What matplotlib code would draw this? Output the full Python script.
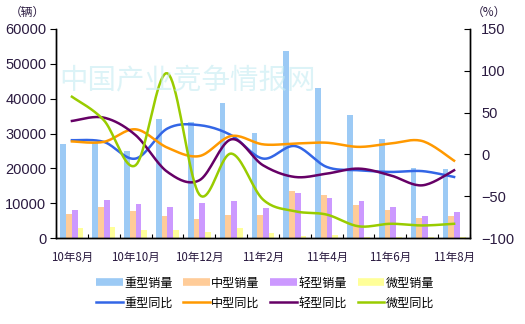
import numpy as np
import matplotlib.pyplot as plt
from matplotlib.lines import Line2D

plt.rcParams['font.family'] = ['Noto Sans CJK SC', 'DejaVu Sans']

months = ['10年8月', '10年9月', '10年10月', '10年11月', '10年12月', '11年1月', '11年2月',
          '11年3月', '11年4月', '11年5月', '11年6月', '11年7月', '11年8月']

# 销量（辆）
heavy_sales = [27100, 27400, 25000, 34100, 33300, 38800, 30200, 53700, 43100, 35400, 28400, 20100, 19800]
medium_sales = [6900, 9000, 7700, 6300, 5400, 6600, 6600, 13500, 12300, 9500, 8000, 5800, 6300]
light_sales = [8000, 10900, 9800, 8900, 10000, 10600, 8700, 12800, 11500, 10600, 8900, 6300, 7500]
micro_sales = [2900, 3200, 2300, 2300, 1700, 2800, 1300, 600, 900, 300, 300, 200, 200]

# 同比（%）
heavy_yoy = [17, 15, -5, 31, 35, 23, -5, 10, -15, -19, -21, -20, -27]
medium_yoy = [15.5, 15, 30, 8, -2, 22, 12, 13, 14, 9, 13, 16, -7.5]
light_yoy = [40, 44, 23, -21, -31, 18, -13, -27, -23, -17, -25, -37, -19]
micro_yoy = [69, 41, -13, 97, -48, 1, -54, -68, -72, -86, -83, -85, -83]

bar_colors = ['#9ccaf5', '#ffcc99', '#cc99ff', '#ffff99']
line_colors = ['#3366e6', '#ff9900', '#660066', '#99cc00']
bar_names = ['重型销量', '中型销量', '轻型销量', '微型销量']
line_names = ['重型同比', '中型同比', '轻型同比', '微型同比']
text_color = '#2a1a40'


def smooth(x, y, n=20):
    # Catmull-Rom style Bezier smoothing through every point
    x = np.asarray(x, float)
    y = np.asarray(y, float)
    px = np.concatenate([[x[0]], x, [x[-1]]])
    py = np.concatenate([[y[0]], y, [y[-1]]])
    xs, ys = [], []
    t = np.linspace(0, 1, n)
    for i in range(1, len(px) - 2):
        p0 = np.array([px[i], py[i]])
        p3 = np.array([px[i + 1], py[i + 1]])
        c1 = p0 + (np.array([px[i + 1], py[i + 1]]) - np.array([px[i - 1], py[i - 1]])) / 6
        c2 = p3 - (np.array([px[i + 2], py[i + 2]]) - p0) / 6
        b = ((1 - t) ** 3)[:, None] * p0 + (3 * (1 - t) ** 2 * t)[:, None] * c1 \
            + (3 * (1 - t) * t ** 2)[:, None] * c2 + (t ** 3)[:, None] * p3
        xs.extend(b[:, 0])
        ys.extend(b[:, 1])
    return np.array(xs), np.array(ys)


fig = plt.figure(figsize=(5.25, 3.24), dpi=100)
ax = fig.add_axes([56 / 525, 86 / 324, 414 / 525, 209 / 324])
ax2 = ax.twinx()

x = np.arange(len(months))
w = 0.18
for k, vals in enumerate([heavy_sales, medium_sales, light_sales, micro_sales]):
    ax.bar(x - 0.27 + k * w, vals, width=w, color=bar_colors[k], zorder=2)

for k, vals in enumerate([heavy_yoy, medium_yoy, light_yoy, micro_yoy]):
    sx, sy = smooth(x, vals)
    ax2.plot(sx, sy, color=line_colors[k], lw=1.8, zorder=3)

ax.set_xlim(-0.5, len(months) - 0.5)
ax.set_ylim(0, 60000)
ax2.set_ylim(-100, 150)
ax.set_yticks(range(0, 60001, 10000))
ax2.set_yticks(range(-100, 151, 50))
ax.set_xticks(x[::2])
ax.set_xticklabels(months[::2])
ax.set_xticks(np.arange(-0.5, len(months)), minor=True)

ax.tick_params(axis='x', which='major', length=0, pad=9, labelsize=8.3, labelcolor=text_color)
ax.tick_params(axis='x', which='minor', direction='in', length=3, width=0.8)
ax.tick_params(axis='y', direction='out', length=4, width=0.8, labelsize=10.5,
               labelcolor=text_color, pad=3)
ax2.tick_params(axis='y', direction='in', length=4, width=0.8, labelsize=10.5,
                labelcolor=text_color, pad=8)
for a in (ax, ax2):
    a.spines['top'].set_visible(False)
    for s in ('left', 'right', 'bottom'):
        a.spines[s].set_linewidth(1.0)
for lab in ax.get_yticklabels() + ax2.get_yticklabels():
    lab.set_family(['Liberation Sans', 'DejaVu Sans'])

fig.text(10 / 525, 1 - 12 / 324, '（辆）', fontsize=8.5, color=text_color, va='center')
fig.text(472 / 525, 1 - 12 / 324, '（%）', fontsize=8.5, color=text_color, va='center')

# 水印
fig.text(188 / 525, 1 - 80 / 324, '中国产业竞争情报网', fontsize=20.5, color='#c6ecf2',
         alpha=0.6, ha='center', va='center', zorder=10)

# 图例：第一行柱形，第二行折线（按列填充，所以交错排列）
handles, names = [], []
for k in range(4):
    handles.append(Line2D([], [], color=bar_colors[k], lw=5.5, solid_capstyle='butt'))
    names.append(bar_names[k])
    handles.append(Line2D([], [], color=line_colors[k], lw=1.8))
    names.append(line_names[k])
fig.legend(handles, names, ncol=4, loc='center',
           bbox_to_anchor=(265 / 525, 1 - 293 / 324), frameon=False, fontsize=8.7,
           handlelength=2.2, handletextpad=0.1, columnspacing=0.9, labelspacing=0.55)

fig.savefig('out.png', dpi=100)
